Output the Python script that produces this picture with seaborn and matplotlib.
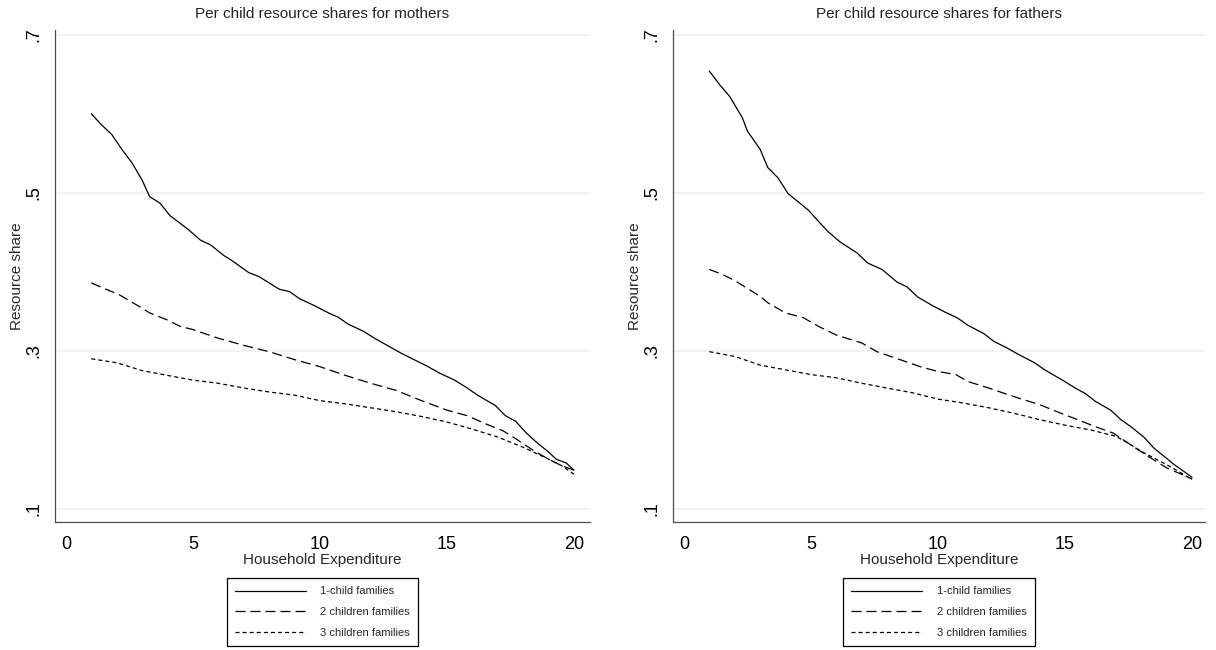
import matplotlib
matplotlib.use("Agg")
import matplotlib.pyplot as plt
import seaborn as sns
import pandas as pd
import numpy as np

# ---------------- data ----------------
series_names = ["1-child families", "2 children families", "3 children families"]

m1_x = [1, 1.4, 1.8, 2.2, 2.6, 3, 3.3, 3.7, 4.1, 4.8, 5.3, 5.7, 6.2, 6.5, 7.2, 7.6, 8.4, 8.8,
        9.2, 9.8, 10.4, 10.7, 11.1, 11.7, 12.2, 12.7, 13.2, 13.7, 14.2, 14.7, 15.3, 15.8, 16.2,
        16.9, 17.3, 17.7, 18.1, 18.5, 19, 19.3, 19.7, 20]
m1_y = [0.600, 0.586, 0.574, 0.555, 0.538, 0.516, 0.495, 0.487, 0.471, 0.454, 0.440, 0.434,
        0.421, 0.415, 0.399, 0.394, 0.378, 0.375, 0.366, 0.357, 0.347, 0.343, 0.334, 0.325,
        0.315, 0.306, 0.297, 0.289, 0.281, 0.272, 0.263, 0.253, 0.244, 0.231, 0.218, 0.211,
        0.197, 0.185, 0.172, 0.163, 0.158, 0.149]

m2_x = [1, 1.5, 2.1, 3, 3.3, 4, 4.5, 5, 6, 7, 8, 9, 10, 11, 12, 13, 14, 15, 15.8, 16.5, 17.2,
        17.7, 18.4, 19, 19.5, 20]
m2_y = [0.386, 0.379, 0.371, 0.354, 0.348, 0.339, 0.331, 0.327, 0.316, 0.307, 0.299, 0.289,
        0.280, 0.269, 0.259, 0.250, 0.237, 0.225, 0.218, 0.208, 0.199, 0.189, 0.174, 0.163,
        0.155, 0.149]

m3_x = [1, 2, 3, 4, 5, 6, 7, 8, 9, 10, 11, 12, 13, 14, 15, 16, 17, 18, 19, 19.5, 20]
m3_y = [0.290, 0.285, 0.275, 0.269, 0.263, 0.259, 0.253, 0.248, 0.244, 0.237, 0.233, 0.228,
        0.223, 0.217, 0.210, 0.201, 0.191, 0.178, 0.163, 0.155, 0.144]

f1_x = [1, 1.4, 1.8, 2.3, 2.5, 3, 3.3, 3.7, 4.1, 4.9, 5.35, 5.67, 6.14, 6.81, 7.24, 7.8, 8.39,
        8.78, 9.21, 9.8, 10.28, 10.75, 11.2, 11.8, 12.2, 12.7, 13.2, 13.8, 14.2, 14.9, 15.4,
        15.8, 16.2, 16.8, 17.2, 17.6, 18.1, 18.5, 19, 19.3, 19.7, 20]
f1_y = [0.654, 0.637, 0.622, 0.595, 0.578, 0.555, 0.532, 0.519, 0.499, 0.478, 0.462, 0.451,
        0.438, 0.424, 0.411, 0.403, 0.387, 0.381, 0.368, 0.357, 0.349, 0.342, 0.332, 0.322,
        0.312, 0.304, 0.295, 0.285, 0.276, 0.263, 0.253, 0.246, 0.236, 0.225, 0.213, 0.204,
        0.191, 0.177, 0.164, 0.156, 0.147, 0.140]

f2_x = [1, 1.5, 2, 3, 3.3, 4, 4.7, 5.3, 6, 7, 7.6, 8.5, 9.3, 10, 10.7, 11.2, 12, 13, 14, 15,
        15.5, 16.2, 16.9, 17.5, 18.3, 19, 19.5, 20]
f2_y = [0.403, 0.397, 0.389, 0.369, 0.361, 0.348, 0.342, 0.331, 0.320, 0.310, 0.299, 0.289,
        0.280, 0.274, 0.270, 0.261, 0.253, 0.242, 0.232, 0.219, 0.213, 0.204, 0.196, 0.183,
        0.166, 0.152, 0.145, 0.138]

f3_x = [1, 2, 3, 4, 5, 6, 7, 8, 9, 10, 11, 12, 13, 14, 15, 16, 17, 17.5, 18, 19, 19.5, 20]
f3_y = [0.299, 0.293, 0.282, 0.276, 0.270, 0.266, 0.259, 0.253, 0.247, 0.239, 0.234, 0.228,
        0.221, 0.213, 0.206, 0.200, 0.192, 0.183, 0.173, 0.156, 0.147, 0.137]

titles = ["Per child resource shares for mothers", "Per child resource shares for fathers"]
x_ticks = [0, 5, 10, 15, 20]
y_ticks = [0.1, 0.3, 0.5, 0.7]
y_tick_labels = [".1", ".3", ".5", ".7"]

# ---------------- build tables ----------------
def make_df(xs, ys):
    rows = []
    for name, x, y in zip(series_names, xs, ys):
        for a, b in zip(x, y):
            rows.append({"x": a, "y": b, "series": name})
    return pd.DataFrame(rows)

df_m = make_df([m1_x, m2_x, m3_x], [m1_y, m2_y, m3_y])
df_f = make_df([f1_x, f2_x, f3_x], [f1_y, f2_y, f3_y])

# ---------------- style ----------------
sns.set_style("white")
plt.rcParams["font.family"] = ["Liberation Sans", "DejaVu Sans"]
plt.rcParams["lines.scale_dashes"] = False

W, H = 1216, 650
fig = plt.figure(figsize=(W / 100, H / 100), dpi=100)

dash_map = {series_names[0]: "", series_names[1]: (7.2, 3.6), series_names[2]: (2.9, 2.2)}

def px_axes(left, right, top, bottom):
    return fig.add_axes([left / W, (H - bottom) / H, (right - left) / W, (bottom - top) / H])

panels = [
    (df_m, px_axes(55, 590, 30, 522), (-0.43, 20.63)),
    (df_f, px_axes(673, 1205, 30, 522), (-0.43, 20.51)),
]

spine_col = "#4d4d4d"
grid_col = "#eaf2f3"

for i, (df, ax, xl) in enumerate(panels):
    sns.lineplot(data=df, x="x", y="y", style="series", dashes=dash_map,
                 color="black", linewidth=0.9, ax=ax, legend=False, estimator=None, sort=False)
    ax.set_xlim(*xl)
    ax.set_ylim(0.0835, 0.706)
    ax.set_xticks(x_ticks)
    ax.set_xticklabels([str(t) for t in x_ticks], fontsize=13)
    ax.set_yticks(y_ticks)
    ax.set_yticklabels(y_tick_labels, fontsize=13, rotation=90, va="center")
    ax.tick_params(axis="both", direction="out", length=6, width=0.8, color=spine_col,
                   labelcolor="black", pad=3)
    ax.tick_params(axis="x", pad=4)
    ax.yaxis.grid(True, color=grid_col, linewidth=1.2)
    ax.xaxis.grid(False)
    for s in ["top", "right"]:
        ax.spines[s].set_visible(False)
    for s in ["left", "bottom"]:
        ax.spines[s].set_color(spine_col)
        ax.spines[s].set_linewidth(0.9)
    ax.set_xlabel("Household Expenditure", fontsize=11, labelpad=0)
    ax.set_ylabel("Resource share", fontsize=11, labelpad=1)
    ax.set_title(titles[i], fontsize=11, color="#222222", pad=9)

    handles = ax.lines[:3]
    leg = ax.legend(handles, series_names, loc="upper center", bbox_to_anchor=(0.5, -0.114),
                    borderaxespad=0, fontsize=8, frameon=True, fancybox=False,
                    edgecolor="black", handlelength=6.4, handletextpad=1.3,
                    labelspacing=0.95, borderpad=0.75)
    leg.get_frame().set_linewidth(0.9)
    leg.get_frame().set_alpha(1)

fig.savefig("out.png", dpi=100, facecolor="white")
